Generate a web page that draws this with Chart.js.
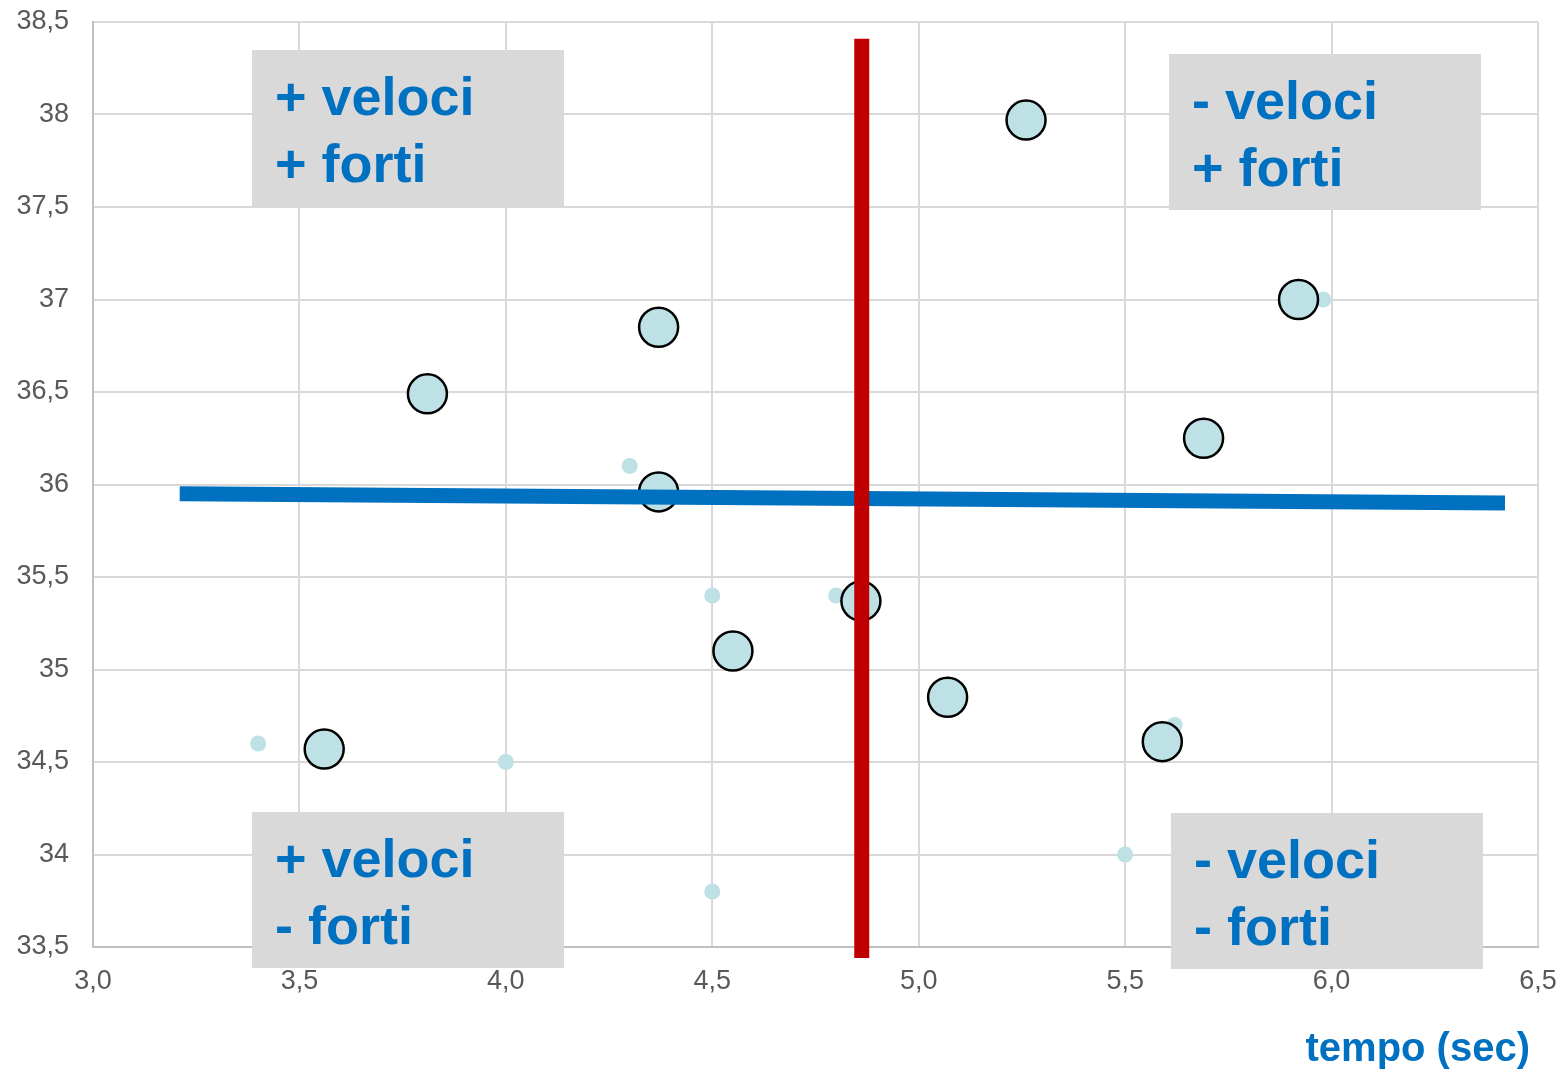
<!DOCTYPE html>
<html>
<head>
<meta charset="utf-8">
<script src="https://cdn.jsdelivr.net/npm/chart.js@4.4.0/dist/chart.umd.min.js"></script>
<style>
    html, body { margin: 0; padding: 0; background: #fff; }
    #wrap { width: 1565px; height: 1073px; position: relative; }
</style>
</head>
<body>
<div id="wrap"><canvas id="quadrantChart"></canvas></div>
<script>
// Data
const mainTimes = [5.26, 5.92, 4.37, 3.81, 5.69, 4.37, 4.86, 4.55, 5.07, 5.59, 3.56];
const mainScores = [37.97, 37.0, 36.85, 36.49, 36.25, 35.96, 35.37, 35.1, 34.85, 34.61, 34.57];

const otherTimes = [3.4, 4.0, 4.3, 4.5, 4.5, 4.8, 5.5, 5.62, 5.98];
const otherScores = [34.6, 34.5, 36.1, 35.4, 33.8, 35.4, 34.0, 34.7, 37.0];

const trendTimes = [3.21, 6.42];
const trendScores = [35.95, 35.9];

const splitTimes = [4.862, 4.862];
const splitScores = [38.41, 33.44];

const quadrantLabels = [
    ['+ veloci', '+ forti'],
    ['- veloci', '+ forti'],
    ['+ veloci', '- forti'],
    ['- veloci', '- forti']
];
const axisTitle = 'tempo (sec)';

const FONT = "'Liberation Sans', Arial, sans-serif";
const BLUE = '#0070C0';

function toPoints(xs, ys) {
    return xs.map((x, i) => ({ x: x, y: ys[i] }));
}

function commaLabel(value, digits) {
    return value.toFixed(digits).replace('.', ',');
}

// Drop the label overhang padding so the plot area sits where the layout padding says
function fixScale(scale, size) {
    if (scale.isHorizontal()) scale.height = size;
    else scale.width = size;
    scale.paddingTop = 0;
    scale.paddingBottom = 0;
    scale.paddingLeft = 0;
    scale.paddingRight = 0;
}

// Grey boxes with the quadrant captions, plus the axis title
const quadrantPlugin = {
    id: 'quadrants',
    beforeDatasetsDraw(chart) {
        const ctx = chart.ctx;
        const boxes = [
            { x: 252, y: 50 },
            { x: 1169, y: 54 },
            { x: 252, y: 812 },
            { x: 1171, y: 813 }
        ];
        ctx.save();
        boxes.forEach((b, i) => {
            ctx.fillStyle = '#D9D9D9';
            ctx.fillRect(b.x, b.y, 312, 156);
            ctx.fillStyle = BLUE;
            ctx.font = 'bold 54px ' + FONT;
            ctx.textAlign = 'left';
            ctx.textBaseline = 'alphabetic';
            ctx.fillText(quadrantLabels[i][0], b.x + 23, b.y + 65);
            ctx.fillText(quadrantLabels[i][1], b.x + 23, b.y + 132);
        });
        ctx.restore();
    },
    afterDraw(chart) {
        const ctx = chart.ctx;
        ctx.save();
        ctx.fillStyle = BLUE;
        ctx.font = 'bold 40px ' + FONT;
        ctx.textAlign = 'right';
        ctx.textBaseline = 'alphabetic';
        ctx.fillText(axisTitle, 1530, 1061);
        ctx.restore();
    }
};

new Chart(document.getElementById('quadrantChart'), {
    type: 'scatter',
    data: {
        datasets: [
            {
                label: 'split',
                data: toPoints(splitTimes, splitScores),
                showLine: true,
                borderColor: '#C00000',
                borderWidth: 15,
                borderCapStyle: 'butt',
                pointRadius: 0,
                clip: false,
                order: 0
            },
            {
                label: 'trend',
                data: toPoints(trendTimes, trendScores),
                showLine: true,
                borderColor: BLUE,
                borderWidth: 15,
                borderCapStyle: 'butt',
                pointRadius: 0,
                clip: false,
                order: 1
            },
            {
                label: 'main',
                data: toPoints(mainTimes, mainScores),
                backgroundColor: '#BDE1E4',
                borderColor: '#000000',
                borderWidth: 2.5,
                pointRadius: 19.5,
                order: 2
            },
            {
                label: 'other',
                data: toPoints(otherTimes, otherScores),
                backgroundColor: '#BDE1E4',
                borderWidth: 0,
                pointRadius: 8,
                order: 3
            }
        ]
    },
    options: {
        responsive: true,
        maintainAspectRatio: false,
        animation: false,
        layout: {
            padding: { top: 21, right: 27, left: 0, bottom: 0 }
        },
        scales: {
            x: {
                type: 'linear',
                min: 3,
                max: 6.5,
                afterFit: s => fixScale(s, 126),
                ticks: {
                    stepSize: 0.5,
                    padding: 18,
                    color: '#595959',
                    font: { family: FONT, size: 27 },
                    callback: v => commaLabel(v, 1)
                },
                grid: { color: '#D9D9D9', lineWidth: 2, drawTicks: false },
                border: { color: '#BFBFBF', width: 2 }
            },
            y: {
                min: 33.5,
                max: 38.5,
                afterFit: s => fixScale(s, 93),
                ticks: {
                    stepSize: 0.5,
                    padding: 24,
                    color: '#595959',
                    font: { family: FONT, size: 27 },
                    callback: v => Number.isInteger(v) ? String(v) : commaLabel(v, 1)
                },
                grid: { color: '#D9D9D9', lineWidth: 2, drawTicks: false },
                border: { color: '#BFBFBF', width: 2 }
            }
        },
        plugins: {
            legend: { display: false },
            tooltip: { enabled: false }
        }
    },
    plugins: [quadrantPlugin]
});
</script>
</body>
</html>
